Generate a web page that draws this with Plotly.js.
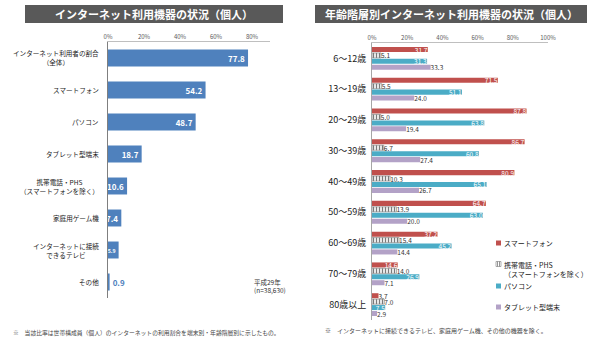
<!DOCTYPE html>
<html>
<head>
<meta charset="utf-8">
<script src="https://cdn.plot.ly/plotly-3.0.1.min.js"></script>
<style>
  html, body { margin: 0; padding: 0; background: #fff; }
  #chart { width: 590px; height: 339px; }
</style>
</head>
<body>
<div id="chart"></div>
<script>
// Internet devices used by individuals (all ages)
const deviceLabels = [
  'インターネット利用者の割合<br>（全体）',
  'スマートフォン',
  'パソコン',
  'タブレット型端末',
  '携帯電話・PHS<br>（スマートフォンを除く）',
  '家庭用ゲーム機',
  'インターネットに接続<br>できるテレビ',
  'その他'
];
const deviceValues = [77.8, 54.2, 48.7, 18.7, 10.6, 7.4, 5.9, 0.9];

// Internet devices by age group
const ageGroups = ['6～12歳', '13～19歳', '20～29歳', '30～39歳', '40～49歳', '50～59歳', '60～69歳', '70～79歳', '80歳以上'];
const seriesNames = ['スマートフォン', '携帯電話・PHS<br>（スマートフォンを除く）', 'パソコン', 'タブレット型端末'];
const smartphone   = [31.7, 71.5, 87.8, 86.7, 80.9, 64.7, 37.2, 14.6, 3.7];
const featurePhone = [5.1, 5.5, 5.0, 6.7, 10.3, 13.9, 15.4, 14.0, 7.0];
const pc           = [31.3, 51.1, 63.8, 60.8, 65.1, 63.0, 45.2, 26.9, 7.5];
const tablet       = [33.3, 24.0, 19.4, 27.4, 26.7, 20.0, 14.4, 7.1, 2.9];

const xTicksLeft  = [0, 20, 40, 60, 80];
const xTicksRight = [0, 20, 40, 60, 80, 100];

const titleLeft  = 'インターネット利用機器の状況（個人）';
const titleRight = '年齢階層別インターネット利用機器の状況（個人）';
const sampleNote = '平成29年<br>(n=38,630)';
const noteLeft   = '※　当該比率は世帯構成員（個人）のインターネットの利用割合を端末別・年齢階層別に示したもの。';
const noteRight  = '※　インターネットに接続できるテレビ、家庭用ゲーム機、その他の機器を除く。';

const FONT = '"Noto Sans CJK JP", "Noto Sans", sans-serif';
const W = 590, H = 339;
const px = v => v / W;
const py = v => 1 - v / H;

const seriesColors = ['#C0504D', '#8c8c8c', '#4BACC6', '#B3A2C7'];
const ageSeries = [smartphone, featurePhone, pc, tablet];
const labelInside = [true, false, true, false];

const traces = [];

// left panel: single series; very short bars get a smaller label so it stays inside
traces.push({
  type: 'bar', orientation: 'h',
  x: deviceValues, y: deviceLabels,
  xaxis: 'x', yaxis: 'y',
  width: 0.53,
  marker: { color: '#4F81BD' },
  text: deviceValues.map(v => v.toFixed(1)),
  textposition: deviceValues.map(v => v >= 2 ? 'inside' : 'outside'),
  insidetextanchor: 'end',
  textangle: 0,
  constraintext: 'none',
  insidetextfont: {
    family: FONT, color: '#ffffff', weight: 'bold',
    size: deviceValues.map(v => v < 7 ? 5.2 : 8)
  },
  outsidetextfont: { family: FONT, size: 8, color: '#4F81BD', weight: 'bold' },
  cliponaxis: false,
  showlegend: false,
  hoverinfo: 'x+y'
});

// right panel: four grouped series
ageSeries.forEach((vals, i) => {
  const marker = { color: seriesColors[i] };
  if (i === 1) {
    marker.color = '#ffffff';
    marker.pattern = { shape: '|', fgcolor: '#7a7a7a', bgcolor: '#ffffff', size: 3, solidity: 0.45 };
    marker.line = { color: '#7a7a7a', width: 0.6 };
  }
  traces.push({
    type: 'bar', orientation: 'h',
    name: seriesNames[i],
    x: vals, y: ageGroups,
    xaxis: 'x2', yaxis: 'y2',
    marker: marker,
    text: vals.map(v => v.toFixed(1)),
    textposition: vals.map(v => (labelInside[i] && v >= 5) ? 'inside' : 'outside'),
    insidetextanchor: 'end',
    textangle: 0,
    constraintext: 'none',
    insidetextfont: { family: FONT, size: 6.5, color: '#ffffff' },
    outsidetextfont: { family: FONT, size: 6.5, color: '#333333' },
    cliponaxis: false,
    showlegend: false
  });
});

const annotations = [];
const shapes = [];

// dark title bars
[[25, 283, titleLeft, 154], [315, 587, titleRight, 451]].forEach(([x0, x1, t, cx]) => {
  shapes.push({
    type: 'rect', xref: 'paper', yref: 'paper',
    x0: px(x0), x1: px(x1), y0: py(23), y1: py(5),
    fillcolor: '#595959', line: { width: 0 }, layer: 'below'
  });
  annotations.push({
    xref: 'paper', yref: 'paper', x: px(cx), y: py(14),
    xanchor: 'center', yanchor: 'middle', showarrow: false,
    text: '<b>' + t + '</b>',
    font: { family: FONT, size: 11, color: '#ffffff' }
  });
});

// category labels for the left panel (centred multi-line)
deviceLabels.forEach(lbl => {
  annotations.push({
    xref: 'paper', yref: 'y', x: px(101), y: lbl,
    xanchor: 'right', yanchor: 'middle', align: 'center', showarrow: false,
    text: lbl,
    font: { family: FONT, size: 6.6, color: '#1a1a1a' }
  });
});

// sample note
annotations.push({
  xref: 'paper', yref: 'paper', x: px(252), y: py(286),
  xanchor: 'left', yanchor: 'middle', align: 'left', showarrow: false,
  text: sampleNote,
  font: { family: FONT, size: 6.5, color: '#333333' }
});

// legend for the age-group panel: swatch + label
const legendY = [243, 264, 286, 307];
const legendLines = [1, 2, 1, 1];
seriesNames.forEach((name, i) => {
  const cy = legendY[i];
  shapes.push({
    type: 'rect', xref: 'paper', yref: 'paper',
    x0: px(496), x1: px(501), y0: py(cy + 2.5), y1: py(cy - 2.5),
    fillcolor: i === 1 ? '#ffffff' : seriesColors[i],
    line: { color: i === 1 ? '#7a7a7a' : seriesColors[i], width: i === 1 ? 0.6 : 0 }
  });
  if (i === 1) {
    [497.5, 499.5].forEach(lx => shapes.push({
      type: 'line', xref: 'paper', yref: 'paper',
      x0: px(lx), x1: px(lx), y0: py(cy + 2.5), y1: py(cy - 2.5),
      line: { color: '#7a7a7a', width: 0.8 }
    }));
  }
  annotations.push({
    xref: 'paper', yref: 'paper', x: px(502), y: py(cy),
    xanchor: 'left', yanchor: legendLines[i] > 1 ? 'top' : 'middle', align: 'left', showarrow: false,
    yshift: legendLines[i] > 1 ? 6 : 0,
    text: name,
    font: { family: FONT, size: 7, color: '#222222' }
  });
});

// footnotes
annotations.push({
  xref: 'paper', yref: 'paper', x: px(11), y: py(332),
  xanchor: 'left', yanchor: 'middle', showarrow: false,
  text: noteLeft,
  font: { family: FONT, size: 5.8, color: '#444444' }
});
annotations.push({
  xref: 'paper', yref: 'paper', x: px(323), y: py(330),
  xanchor: 'left', yanchor: 'middle', showarrow: false,
  text: noteRight,
  font: { family: FONT, size: 6, color: '#444444' }
});

const xCommon = {
  side: 'top', showline: true, linecolor: '#bfbfbf', linewidth: 1,
  showgrid: false, zeroline: false, ticks: '', fixedrange: true,
  tickfont: { family: FONT, size: 6, color: '#595959' }
};

const layout = {
  width: W, height: H,
  margin: { l: 0, r: 0, t: 0, b: 0 },
  paper_bgcolor: '#ffffff', plot_bgcolor: 'rgba(0,0,0,0)',
  barmode: 'group', bargap: 0.23, bargroupgap: 0.15,
  showlegend: false,
  font: { family: FONT },
  xaxis: Object.assign({}, xCommon, {
    domain: [px(108), px(270)], range: [0, 90], anchor: 'y',
    tickmode: 'array', tickvals: xTicksLeft, ticktext: xTicksLeft.map(t => t + '%')
  }),
  yaxis: {
    domain: [py(298), py(42)], type: 'category', range: [7.5, -0.5], anchor: 'x',
    showline: true, linecolor: '#7f7f7f', linewidth: 1,
    showticklabels: false, ticks: '', showgrid: false, zeroline: false, fixedrange: true
  },
  xaxis2: Object.assign({}, xCommon, {
    domain: [px(372), px(548)], range: [0, 100], anchor: 'y2',
    tickmode: 'array', tickvals: xTicksRight, ticktext: xTicksRight.map(t => t + '%')
  }),
  yaxis2: {
    domain: [py(320), py(43)], type: 'category', range: [8.5, -0.5], anchor: 'x2',
    showline: true, linecolor: '#a6a6a6', linewidth: 1,
    ticks: 'outside', ticklen: 3, tickcolor: 'rgba(0,0,0,0)',
    tickfont: { family: FONT, size: 9, color: '#1a1a1a' },
    showgrid: false, zeroline: false, fixedrange: true
  },
  shapes: shapes,
  annotations: annotations
};

Plotly.newPlot('chart', traces, layout, { displayModeBar: false, staticPlot: true });
</script>
</body>
</html>
